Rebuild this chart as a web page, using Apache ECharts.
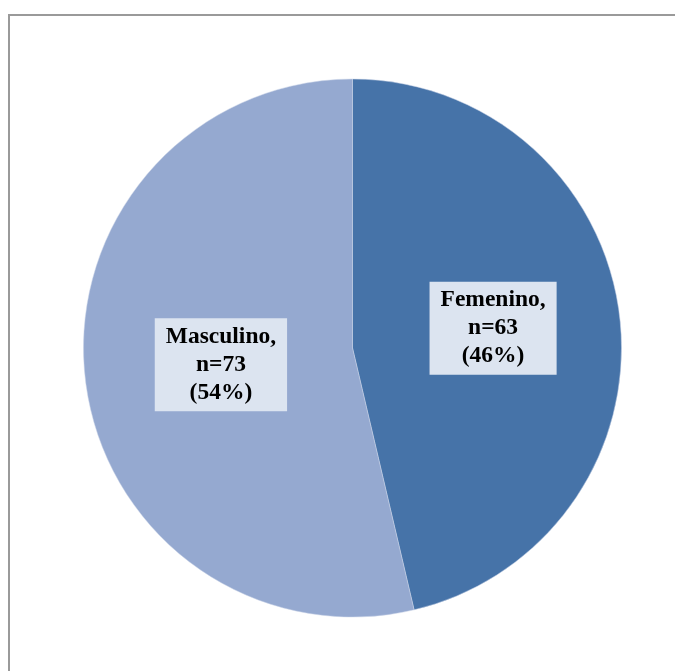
<!DOCTYPE html>
<html>
<head>
<meta charset="utf-8">
<script src="https://cdn.jsdelivr.net/npm/echarts@6/dist/echarts.min.js"></script>
<style>
  html, body { margin: 0; padding: 0; background: #fff; }
  #chart { width: 675px; height: 671px; }
</style>
</head>
<body>
<div id="chart"></div>
<script>
// Sex distribution of the sample
const categories = ['Femenino', 'Masculino'];
const counts = [63, 73];
const sliceColors = ['#4673A8', '#95A9D0'];
// small nudges so each label box sits where it reads best inside its slice
const labelNudges = [[4, -4], [5, 1]];

const chart = echarts.init(document.getElementById('chart'), null, { renderer: 'canvas' });

chart.setOption({
  animation: false,
  backgroundColor: '#ffffff',
  graphic: [{
    type: 'rect',
    shape: { x: 9, y: 15, width: 700, height: 700 },
    style: { fill: 'none', stroke: '#9a9a9a', lineWidth: 2 },
    silent: true
  }],
  series: [{
    type: 'pie',
    center: [352.5, 348],
    radius: [0, 269],
    startAngle: 90,
    clockwise: true,
    percentPrecision: 0,
    label: {
      show: true,
      position: 'inside',
      formatter: '{b},\nn={c}\n({d}%)',
      fontFamily: '"Liberation Serif", "Times New Roman", serif',
      fontWeight: 'bold',
      fontSize: 23.5,
      lineHeight: 28,
      color: '#000',
      align: 'center',
      backgroundColor: '#DCE4F0',
      padding: [5, 11, 4, 11]
    },
    labelLine: { show: false },
    itemStyle: { borderColor: '#c8d3e6', borderWidth: 0.5 },
    emphasis: { disabled: true },
    data: categories.map((name, i) => ({
      name: name,
      value: counts[i],
      itemStyle: { color: sliceColors[i] },
      label: { offset: labelNudges[i] }
    }))
  }]
});
</script>
</body>
</html>
